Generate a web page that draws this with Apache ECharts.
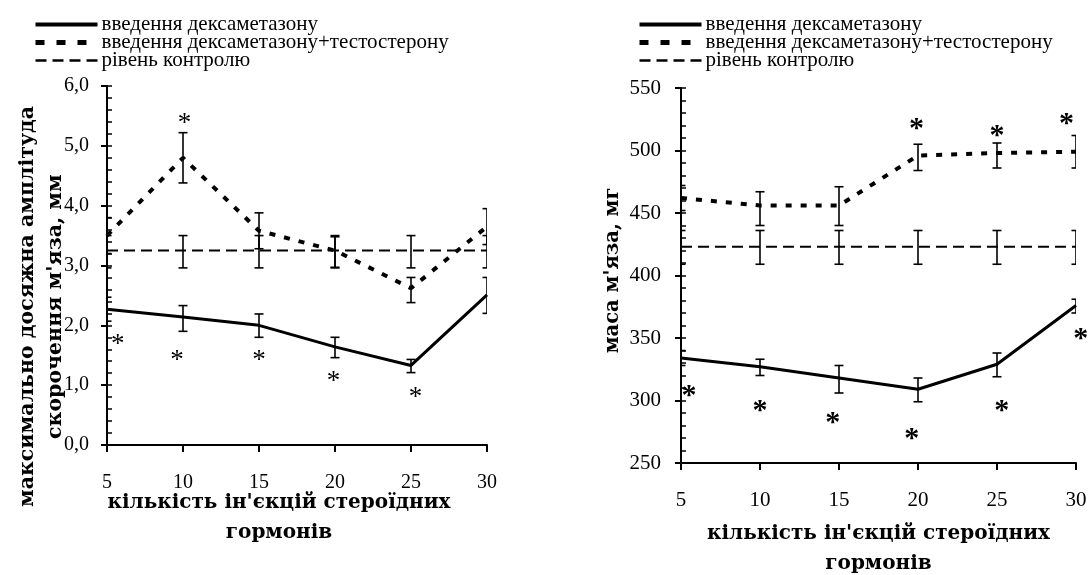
<!DOCTYPE html>
<html>
<head>
<meta charset="utf-8">
<script src="https://cdn.jsdelivr.net/npm/echarts@6/dist/echarts.min.js"></script>
<style>
  html, body { margin: 0; background: #fff; }
  #chart { width: 1089px; height: 575px; }
</style>
</head>
<body>
<div id="chart"></div>
<script>
// кількість ін'єкцій
const doses = [5, 10, 15, 20, 25, 30]

// ліва панель: амплітуда скорочення, мм
const ampDexa = [2.27, 2.14, 2.0, 1.64, 1.33, 2.51]
const ampDexaLow = [2.07, 1.9, 1.8, 1.46, 1.21, 2.2]
const ampDexaHigh = [2.47, 2.33, 2.19, 1.8, 1.43, 2.8]
const ampTesto = [3.5, 4.8, 3.58, 3.25, 2.62, 3.65]
const ampTestoLow = [3.2, 4.38, 3.28, 2.97, 2.38, 3.35]
const ampTestoHigh = [3.8, 5.22, 3.88, 3.48, 2.8, 3.95]
const ampControl = [3.25, 3.25, 3.25, 3.25, 3.25, 3.25]
const ampControlLow = [2.96, 2.96, 2.96, 2.96, 2.96, 2.96]
const ampControlHigh = [3.5, 3.5, 3.5, 3.5, 3.5, 3.5]
const ampStars = [[5.7, 1.77], [9.6, 1.5], [10.1, 5.45], [15, 1.5], [19.9, 1.15], [25.3, 0.87]]

// права панель: маса м'яза, мг
const massDexa = [334, 327, 318, 309, 329, 376]
const massDexaLow = [328, 320, 306, 299, 319, 370]
const massDexaHigh = [340, 333, 328, 318, 338, 381]
const massTesto = [462, 456, 456, 496, 498, 499]
const massTestoLow = [452, 440, 440, 484, 486, 486]
const massTestoHigh = [472, 467, 471, 505, 506, 512]
const massControl = [423, 423, 423, 423, 423, 423]
const massControlLow = [409, 409, 409, 409, 409, 409]
const massControlHigh = [436, 436, 436, 436, 436, 436]
const massStars = [[5.5, 308], [10, 296], [14.6, 287], [19.6, 274], [19.9, 522], [25, 516], [25.3, 296], [29.4, 526], [30.3, 354]]

const nameDexa = 'введення дексаметазону'
const nameTesto = 'введення дексаметазону+тестостерону'
const nameControl = 'рівень контролю'

const serif = '"Liberation Serif", "DejaVu Serif", serif'
// підписи осей у оригіналі розріджені, тому ширший шрифт
const wideSerif = '"DejaVu Serif", "Liberation Serif", serif'

const dexaLine = { color: '#000', width: 3, type: 'solid' }
const testoLine = { color: '#000', width: 4, type: [6, 9] }
const controlLine = { color: '#000', width: 2, type: [11, 6] }

const pairs = (ys) => doses.map((x, i) => [x, ys[i]])
const bars = (lo, hi) => doses.map((x, i) => [x, lo[i], hi[i]])

function renderErrorBar(params, api) {
  const x = api.value(0)
  const top = api.coord([x, api.value(2)])
  const bot = api.coord([x, api.value(1)])
  const w = 4.5
  const style = { stroke: '#000', lineWidth: 1.6 }
  return {
    type: 'group',
    children: [
      { type: 'line', shape: { x1: top[0], y1: top[1], x2: bot[0], y2: bot[1] }, style },
      { type: 'line', shape: { x1: top[0] - w, y1: top[1], x2: top[0] + w, y2: top[1] }, style },
      { type: 'line', shape: { x1: bot[0] - w, y1: bot[1], x2: bot[0] + w, y2: bot[1] }, style }
    ]
  }
}

function starRenderer(size, weight) {
  return function (params, api) {
    const p = api.coord([api.value(0), api.value(1)])
    return {
      type: 'text',
      x: p[0],
      y: p[1] + size * 0.2,
      style: { text: '*', font: weight + ' ' + size + 'px ' + serif, fill: '#000', align: 'center', verticalAlign: 'middle' }
    }
  }
}

function panelSeries(idx, dexa, testo, control, errs, stars, starSize, starWeight) {
  const ax = { xAxisIndex: idx, yAxisIndex: idx * 2 }
  return [
    Object.assign({ name: nameDexa, type: 'line', data: pairs(dexa), symbol: 'none', lineStyle: dexaLine, z: 3 }, ax),
    Object.assign({ name: nameTesto, type: 'line', data: pairs(testo), symbol: 'none', lineStyle: testoLine, z: 3 }, ax),
    Object.assign({ name: nameControl, type: 'line', data: pairs(control), symbol: 'none', lineStyle: controlLine, z: 3 }, ax),
    Object.assign({
      type: 'custom', data: errs, renderItem: renderErrorBar, clip: true, silent: true, z: 4
    }, ax),
    Object.assign({
      type: 'custom', data: stars, renderItem: starRenderer(starSize, starWeight), clip: false, silent: true, z: 5
    }, ax)
  ]
}

function xAxisFor(gridIndex, labelSize, labelMargin, nameGap, namePad) {
  return {
    type: 'value', gridIndex, min: 5, max: 30, interval: 5,
    name: "кількість ін'єкцій стероїдних\nгормонів",
    nameLocation: 'middle', nameGap, nameMoveOverlap: false,
    nameTextStyle: { fontFamily: wideSerif, fontSize: 20, fontWeight: 'bold', color: '#000', lineHeight: 30, padding: namePad },
    axisLine: { lineStyle: { color: '#000', width: 2 } },
    axisTick: { show: true, length: 7, lineStyle: { color: '#000', width: 2 } },
    axisLabel: { fontFamily: serif, fontSize: labelSize, color: '#000', margin: labelMargin },
    splitLine: { show: false }
  }
}

function yAxesFor(gridIndex, min, max, interval, minorInterval, name, nameGap, namePad, nameSize, labelSize, labelMargin, fmt) {
  return [
    {
      type: 'value', gridIndex, position: 'left', min, max, interval,
      name, nameLocation: 'middle', nameGap, nameRotate: 90, nameMoveOverlap: false,
      nameTextStyle: { fontFamily: wideSerif, fontSize: nameSize, fontWeight: 'bold', color: '#000', lineHeight: 28, padding: namePad },
      axisLine: { show: true, lineStyle: { color: '#000', width: 2 } },
      axisTick: { show: true, length: 6, lineStyle: { color: '#000', width: 2 } },
      axisLabel: { fontFamily: serif, fontSize: labelSize, color: '#000', margin: labelMargin, formatter: fmt },
      splitLine: { show: false }
    },
    {
      type: 'value', gridIndex, position: 'left', min, max, interval: minorInterval,
      axisLine: { show: false },
      axisTick: { show: true, inside: true, length: 5, lineStyle: { color: '#000', width: 1.5 } },
      axisLabel: { show: false },
      splitLine: { show: false }
    }
  ]
}

function legendAt(left) {
  return {
    left, top: 14, padding: 0, orient: 'vertical', itemWidth: 62, itemHeight: 12, itemGap: -3,
    selectedMode: false,
    itemStyle: { opacity: 0 },
    data: [
      { name: nameDexa, lineStyle: { width: 4 } },
      { name: nameTesto, lineStyle: { width: 5, type: [9, 12] } },
      { name: nameControl, lineStyle: { width: 2.5 } }
    ],
    textStyle: { fontFamily: serif, fontSize: 21, color: '#000', lineHeight: 19, padding: [0, 0, 0, -1] }
  }
}

const chart = echarts.init(document.getElementById('chart'))
chart.setOption({
  animation: false,
  textStyle: { fontFamily: serif },
  legend: [legendAt(33), legendAt(637)],
  grid: [
    { left: 107, right: 602, top: 86, bottom: 130, outerBoundsMode: 'none' },
    { left: 681, right: 13, top: 88, bottom: 112, outerBoundsMode: 'none' }
  ],
  xAxis: [xAxisFor(0, 20, 28, 43, [0, 36, 0, 0]), xAxisFor(1, 21, 27, 56, [0, 0, 0, 0])],
  yAxis: [
    ...yAxesFor(0, 0, 6, 1, 0.2, "максимально досяжна амплітуда\nскорочення м'яза, мм", 37, [0, 82, 0, 0], 20.5, 20, 18,
      v => v.toFixed(1).replace('.', ',')),
    ...yAxesFor(1, 250, 550, 50, 10, "маса м'яза, мг", 54, [0, 0, 0, 10], 19.5, 21, 20, v => String(v))
  ],
  series: [
    ...panelSeries(0, ampDexa, ampTesto, ampControl,
      [...bars(ampDexaLow, ampDexaHigh), ...bars(ampTestoLow, ampTestoHigh), ...bars(ampControlLow, ampControlHigh)],
      ampStars, 27, 'normal'),
    ...panelSeries(1, massDexa, massTesto, massControl,
      [...bars(massDexaLow, massDexaHigh), ...bars(massTestoLow, massTestoHigh), ...bars(massControlLow, massControlHigh)],
      massStars, 30, 'bold')
  ]
})
</script>
</body>
</html>
